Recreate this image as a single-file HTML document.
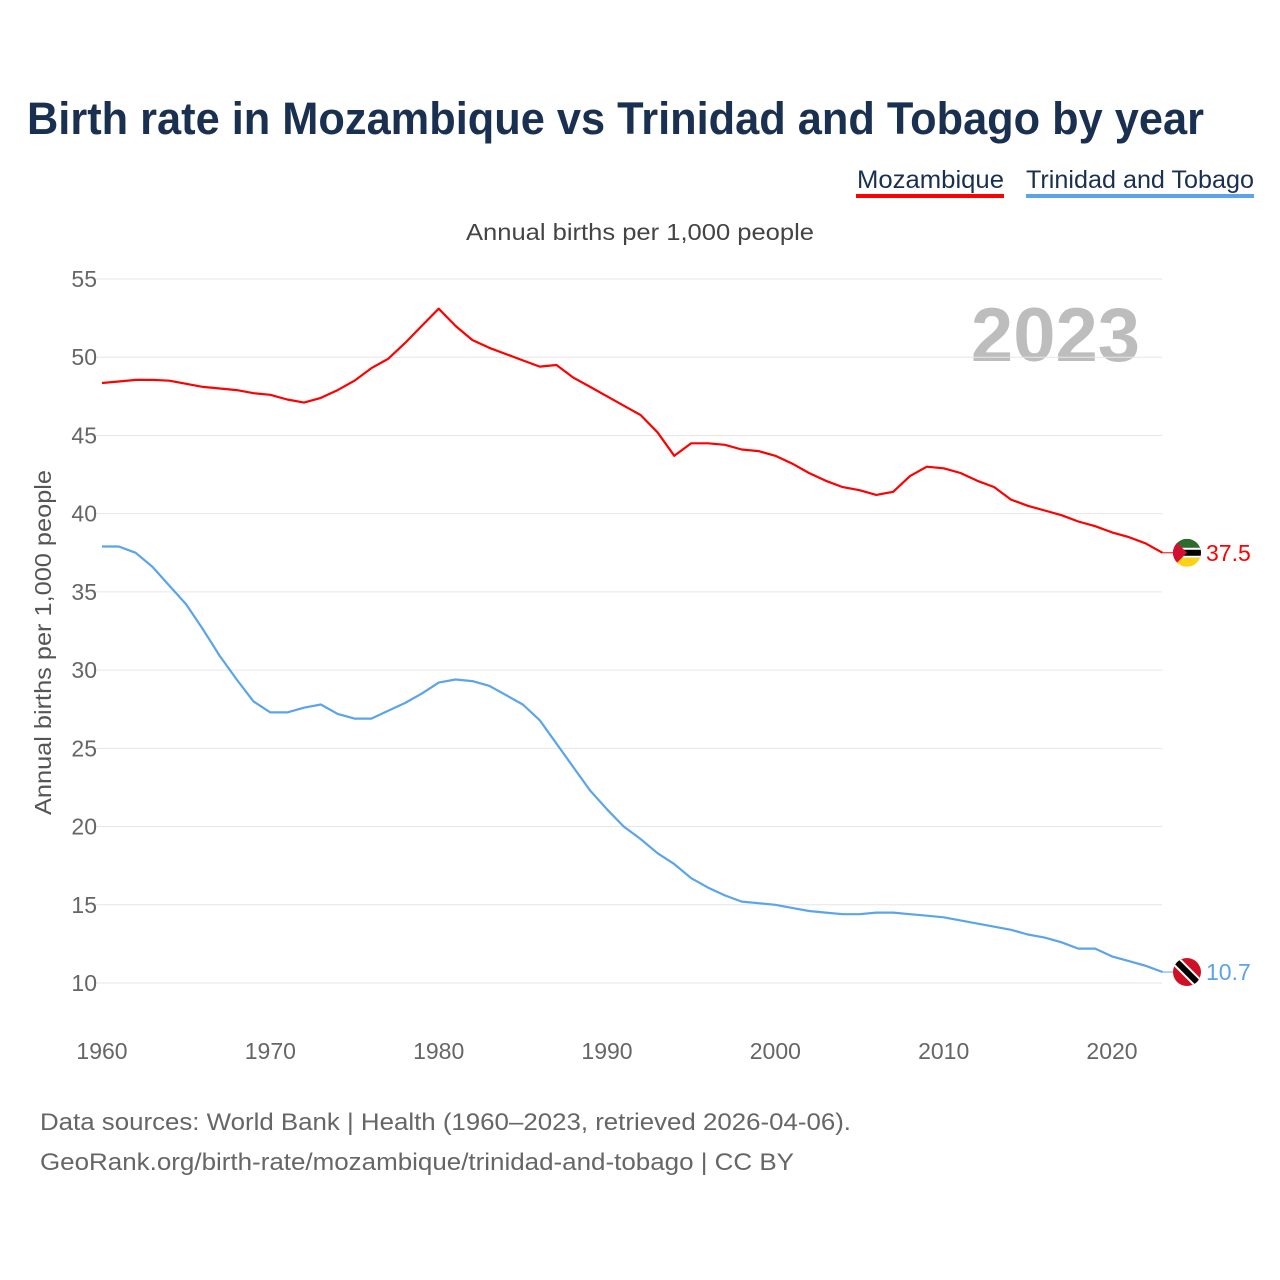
<!DOCTYPE html>
<html><head><meta charset="utf-8"><style>
body{margin:0;background:#fff;font-family:"Liberation Sans",sans-serif}
#root{position:relative;width:1280px;height:1280px;overflow:hidden}
</style></head><body>
<div id="root">
<svg id="svg" width="1280" height="1280" xmlns="http://www.w3.org/2000/svg">
<text x="27" y="134" font-size="45" font-weight="bold" fill="#1a3050" textLength="1177" lengthAdjust="spacingAndGlyphs">Birth rate in Mozambique vs Trinidad and Tobago by year</text>
<g>
<text x="857" y="188" font-size="25" fill="#1a3050" textLength="147" lengthAdjust="spacingAndGlyphs">Mozambique</text>
<rect x="856" y="194" width="148" height="4" fill="#ff0000"/></g>
<g>
<text x="1026" y="188" font-size="25" fill="#1a3050" textLength="228" lengthAdjust="spacingAndGlyphs">Trinidad and Tobago</text>
<rect x="1026" y="194" width="228" height="4" fill="#5ba4ea"/></g>
<text x="466" y="240" font-size="23" fill="#444" textLength="348" lengthAdjust="spacingAndGlyphs">Annual births per 1,000 people</text>
<text x="0" y="0" font-size="23" fill="#555" textLength="345" lengthAdjust="spacingAndGlyphs" transform="translate(51 815) rotate(-90)">Annual births per 1,000 people</text>
<text x="1140" y="361" font-size="76" font-weight="bold" fill="#bdbdbd" text-anchor="end">2023</text>
<g id="grid"></g><g id="lines"></g><g id="ends"></g>
<text x="40" y="1130" font-size="24" fill="#666" textLength="811" lengthAdjust="spacingAndGlyphs">Data sources: World Bank | Health (1960–2023, retrieved 2026-04-06).</text>
<text x="40" y="1170" font-size="24" fill="#666" textLength="754" lengthAdjust="spacingAndGlyphs">GeoRank.org/birth-rate/mozambique/trinidad-and-tobago | CC BY</text>
</svg></div>
<script>
const years=[];for(let y=1960;y<=2023;y++)years.push(y);
const mozambique=[48.35,48.45,48.55,48.55,48.5,48.3,48.1,48.0,47.9,47.7,47.6,47.3,47.1,47.4,47.9,48.5,49.3,49.9,50.9,52.0,53.1,52.0,51.1,50.6,50.2,49.8,49.4,49.5,48.7,48.1,47.5,46.9,46.3,45.2,43.7,44.5,44.5,44.4,44.1,44.0,43.7,43.2,42.6,42.1,41.7,41.5,41.2,41.4,42.4,43.0,42.9,42.6,42.1,41.7,40.9,40.5,40.2,39.9,39.5,39.2,38.8,38.5,38.1,37.5];
const trinidad=[37.9,37.9,37.5,36.6,35.4,34.2,32.6,30.9,29.4,28.0,27.3,27.3,27.6,27.8,27.2,26.9,26.9,27.4,27.9,28.5,29.2,29.4,29.3,29.0,28.4,27.8,26.8,25.3,23.8,22.3,21.1,20.0,19.2,18.3,17.6,16.7,16.1,15.6,15.2,15.1,15.0,14.8,14.6,14.5,14.4,14.4,14.5,14.5,14.4,14.3,14.2,14.0,13.8,13.6,13.4,13.1,12.9,12.6,12.2,12.2,11.7,11.4,11.1,10.7];
const yTicks=[10,15,20,25,30,35,40,45,50,55];
const xTicks=[1960,1970,1980,1990,2000,2010,2020];
const NS="http://www.w3.org/2000/svg";
const X=y=>102+(y-1960)*(1010/60);
const Y=v=>983-(v-10)*(704/45);
function mk(t,a,p){const e=document.createElementNS(NS,t);for(const k in a)e.setAttribute(k,a[k]);p.appendChild(e);return e;}
const grid=document.getElementById('grid');
yTicks.forEach(v=>{
 const l=mk('line',{x1:95,x2:1162,y1:Y(v),y2:Y(v),stroke:'#e6e6e6','stroke-width':1},grid);
 
 
 const t=mk('text',{x:97,y:Y(v)+8,'font-size':23,fill:'#666','text-anchor':'end'},grid);t.textContent=v;
 
 
});
xTicks.forEach(v=>{
 const t=mk('text',{x:X(v),y:1059,'font-size':23,fill:'#666','text-anchor':'middle'},grid);t.textContent=v;
 
 
});
const lines=document.getElementById('lines');
function line(data,color,name){
 const d=data.map((v,i)=>(i?'L':'M')+X(years[i]).toFixed(1)+','+Y(v).toFixed(1)).join('');
 const p=mk('path',{d:d,fill:'none',stroke:color,'stroke-width':2.2,'stroke-linejoin':'round'},lines);
 
 
}
line(mozambique,'#ff0000','mozambique-line');
line(trinidad,'#5ba4ea','trinidad-line');
const ends=document.getElementById('ends');
function end(data,color,name,flag){
 const v=data[data.length-1],x=X(2023),y=Y(v);
 mk('line',{x1:x,x2:x+14,y1:y,y2:y,stroke:color,'stroke-width':1},ends);
 const g=mk('g',{},ends);
 
 
 const cx=1187;
 const cp=mk('clipPath',{id:'c'+name},g);
 mk('circle',{cx:cx,cy:y,r:14},cp);
 const f=mk('g',{'clip-path':'url(#c'+name+')'},g);
 if(flag==='moz'){
  mk('rect',{x:cx-14,y:y-14,width:28,height:9,fill:'#2e6b2e'},f);
  mk('rect',{x:cx-14,y:y-5,width:28,height:10,fill:'#000'},f);
  mk('rect',{x:cx-14,y:y-5,width:28,height:2,fill:'#fff'},f);
  mk('rect',{x:cx-14,y:y+3,width:28,height:2,fill:'#fff'},f);
  mk('rect',{x:cx-14,y:y+5,width:28,height:9,fill:'#fcd116'},f);
  mk('polygon',{points:(cx-14)+','+(y-14)+' '+(cx)+','+y+' '+(cx-14)+','+(y+14),fill:'#d21034'},f);
 }else{
  mk('rect',{x:cx-14,y:y-14,width:28,height:28,fill:'#ce1126'},f);
  mk('line',{x1:cx-14,y1:y-14,x2:cx+14,y2:y+14,stroke:'#fff','stroke-width':10},f);
  mk('line',{x1:cx-14,y1:y-14,x2:cx+14,y2:y+14,stroke:'#000','stroke-width':6},f);
 }
 const t=mk('text',{x:1206,y:y+8,'font-size':23,fill:color},ends);t.textContent=v.toFixed(1);
 
 
}
end(mozambique,'#ff0000','mozambique','moz');
end(trinidad,'#5ba4ea','trinidad','tt');
</script>
</body></html>
